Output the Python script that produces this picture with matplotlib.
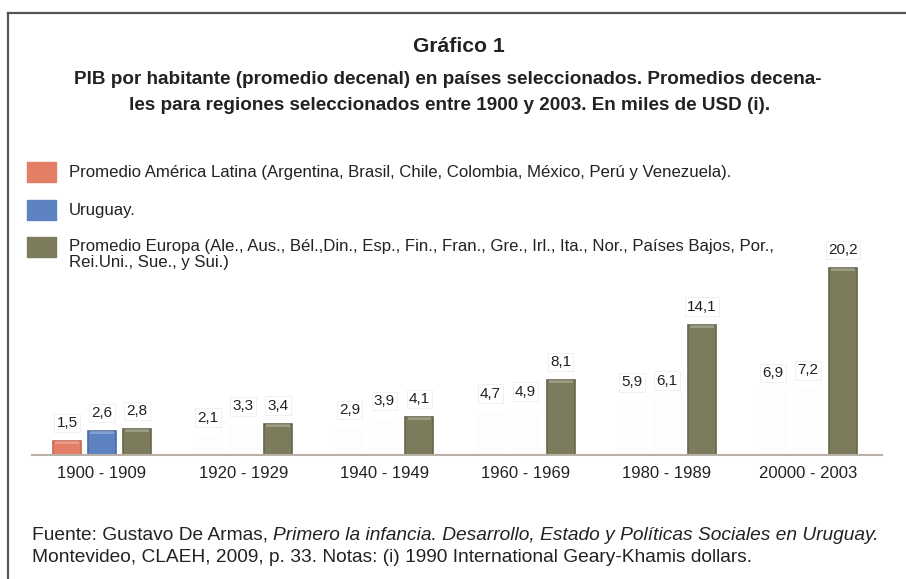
import matplotlib.pyplot as plt
from matplotlib.lines import Line2D

plt.rcParams['font.family'] = ['Liberation Sans', 'DejaVu Sans']

periodos = ['1900 - 1909', '1920 - 1929', '1940 - 1949',
            '1960 - 1969', '1980 - 1989', '20000 - 2003']
america_latina = [1.5, 2.1, 2.9, 4.7, 5.9, 6.9]
uruguay = [2.6, 3.3, 3.9, 4.9, 6.1, 7.2]
europa = [2.8, 3.4, 4.1, 8.1, 14.1, 20.2]

series = ['Promedio América Latina (Argentina, Brasil, Chile, Colombia, México, Perú y Venezuela).',
          'Uruguay.',
          'Promedio Europa (Ale., Aus., Bél.,Din., Esp., Fin., Fran., Gre., Irl., Ita., Nor., Países Bajos, Por.,\n'
          'Rei.Uni., Sue., y Sui.)']
colores = ['#e47f66', '#5d82c2', '#7c7c5c']
bordes = ['#c9664f', '#4a6aa3', '#66664a']

W, H = 906, 579
fig = plt.figure(figsize=(W / 100, H / 100), dpi=100)
r = fig.canvas.get_renderer()


def ajustar(t, ancho_px):
    # escala el tamaño de letra para que el texto ocupe ancho_px
    w = t.get_window_extent(r).width
    t.set_fontsize(t.get_fontsize() * ancho_px / w)


# marco
fig.add_artist(Line2D([8 / W, 1], [1 - 13 / H, 1 - 13 / H], color='#555555', lw=1.6))
fig.add_artist(Line2D([8 / W, 8 / W], [0, 1 - 13 / H], color='#555555', lw=1.6))

# titulo
t = fig.text(459 / W, 1 - 47 / H, 'Gráfico 1', ha='center', va='center',
             fontsize=15, fontweight='bold', color='#222222')
ajustar(t, 92)
t2 = fig.text(448 / W, 1 - 80 / H,
              'PIB por habitante (promedio decenal) en países seleccionados. Promedios decena-',
              ha='center', va='center', fontsize=14, fontweight='bold', color='#222222')
ajustar(t2, 746)
fig.text(450 / W, 1 - 105 / H,
         'les para regiones seleccionados entre 1900 y 2003. En miles de USD (i).',
         ha='center', va='center', fontsize=t2.get_fontsize(), fontweight='bold', color='#222222')

# leyenda
ley_y = [172, 210, 247]
t = fig.text(69 / W, 1 - 173 / H, series[0], ha='left', va='center', fontsize=12, color='#222222')
ajustar(t, 665)
tam_ley = t.get_fontsize()
for yy, c in zip(ley_y, colores):
    fig.patches.append(plt.Rectangle((27 / W, 1 - (yy + 10) / H), 29 / W, 20 / H,
                                     transform=fig.transFigure, color=c, figure=fig))
fig.text(69 / W, 1 - 210 / H, series[1], ha='left', va='center', fontsize=tam_ley, color='#222222')
for j, linea in enumerate(series[2].split('\n')):
    fig.text(69 / W, 1 - (247 + 16 * j) / H, linea, ha='left', va='center',
             fontsize=tam_ley, color='#222222')

# ejes
px_por_unidad = 9.25
ax_left, ax_right, base, ax_top = 32, 882, 455, 150
ax = fig.add_axes([ax_left / W, 1 - base / H, (ax_right - ax_left) / W, (base - ax_top) / H])
ax.set_ylim(0, (base - ax_top) / px_por_unidad)
paso = 141.2
ax.set_xlim(-(102 - ax_left) / paso, (ax_right - 102) / paso)

desp = 35 / paso
ancho = 28 / paso
x = list(range(len(periodos)))
for k, (vals, c, b) in enumerate(zip([america_latina, uruguay, europa], colores, bordes)):
    pos = [i + (k - 1) * desp for i in x]
    for i, (p, v) in enumerate(zip(pos, vals)):
        visible = (k == 2) or (i == 0)
        ax.bar(p, v, width=ancho, color=c if visible else '#fcfcfc',
               edgecolor=b if visible else 'none', linewidth=1.2,
               alpha=1 if visible else 0.5, zorder=2)
        if visible:
            ax.bar(p, 0.35, bottom=v - 0.35, width=ancho * 0.85, color='white',
                   alpha=0.25, linewidth=0, zorder=3)
        ax.annotate(f'{v:.1f}'.replace('.', ','), (p, v), xytext=(0, 18),
                    textcoords='offset pixels', ha='center', va='center',
                    fontsize=11, color='#222222', zorder=4,
                    bbox=dict(boxstyle='square,pad=0.15', fc='white', ec='#eeeeee', lw=0.6))

ax.set_xticks(x, periodos)
ax.tick_params(axis='x', length=0, pad=8, labelsize=12, labelcolor='#222222')
ax.set_yticks([])
for s in ['top', 'right', 'left']:
    ax.spines[s].set_visible(False)
ax.spines['bottom'].set_color('#b9b1a8')
ax.spines['bottom'].set_linewidth(1.5)
ax.patch.set_alpha(0)

# fuente
x0, x_fin = 32, 879
y1 = 1 - 535 / H
t1 = fig.text(x0 / W, y1, 'Fuente: Gustavo De Armas, ', ha='left', va='center',
              fontsize=11, color='#222222')
t1b = fig.text(0, y1, 'Primero la infancia. Desarrollo, Estado y Políticas Sociales en Uruguay.',
               ha='left', va='center', fontsize=11, style='italic', color='#222222')
total = t1.get_window_extent(r).width + t1b.get_window_extent(r).width
tam_f = 11 * (x_fin - x0) / total
t1.set_fontsize(tam_f)
t1b.set_fontsize(tam_f)
t1b.set_x(t1.get_window_extent(r).x1 / W)
fig.text(x0 / W, 1 - 558 / H,
         'Montevideo, CLAEH, 2009, p. 33. Notas: (i) 1990 International Geary-Khamis dollars.',
         ha='left', va='center', fontsize=tam_f, color='#222222')

fig.savefig('out.png', dpi=100, facecolor='white')
